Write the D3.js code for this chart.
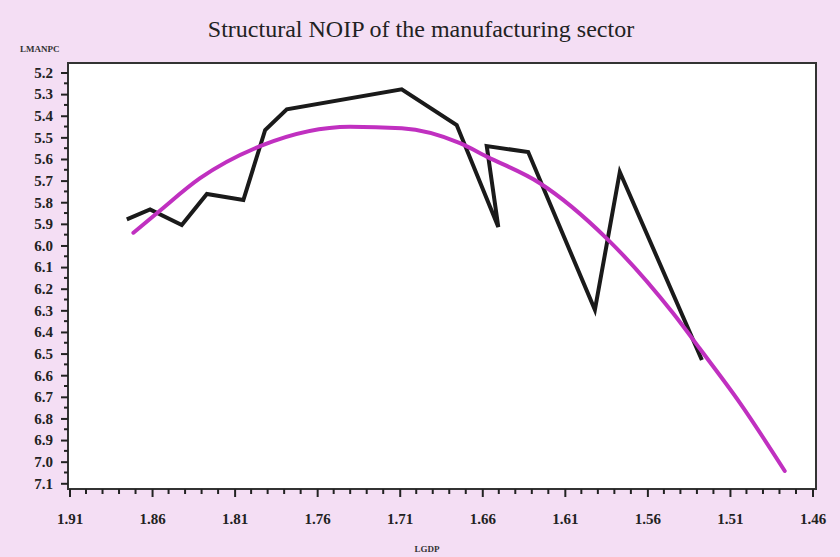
<!DOCTYPE html>
<html>
<head>
<meta charset="utf-8">
<script src="https://cdn.jsdelivr.net/npm/d3@7"></script>
<style>
  html, body { margin: 0; padding: 0; background: #f4def4; }
  svg { display: block; }
</style>
</head>
<body>
<svg id="chart" width="840" height="557"></svg>
<script>
// Observed LMANPC against LGDP (in time order, LGDP falling)
const obsLGDP = [1.8753, 1.8612, 1.842, 1.8268, 1.8047, 1.7915, 1.7784, 1.7088,
                 1.6755, 1.6503, 1.6573, 1.6322, 1.5918, 1.5767, 1.527];
const obsLMANPC = [5.879, 5.833, 5.905, 5.762, 5.790, 5.466, 5.370, 5.278,
                   5.443, 5.915, 5.540, 5.568, 6.298, 5.660, 6.530];

// Structural (fitted) curve
const fitLGDP = [1.8713, 1.8571, 1.8309, 1.7926, 1.7401, 1.7088, 1.6735, 1.6573,
                 1.6251, 1.5847, 1.5444, 1.5282, 1.5040, 1.4768];
const fitLMANPC = [5.941, 5.851, 5.689, 5.535, 5.451, 5.458, 5.527, 5.589,
                   5.712, 5.967, 6.314, 6.478, 6.728, 7.043];

// Tick values
const xTicks = [1.91, 1.86, 1.81, 1.76, 1.71, 1.66, 1.61, 1.56, 1.51, 1.46];
const yTicks = [5.2, 5.3, 5.4, 5.5, 5.6, 5.7, 5.8, 5.9, 6.0, 6.1, 6.2, 6.3,
                6.4, 6.5, 6.6, 6.7, 6.8, 6.9, 7.0, 7.1];

const svg = d3.select("#chart");
const frame = { left: 68, right: 816, top: 63, bottom: 489 };

const x = d3.scaleLinear().domain([1.91, 1.46]).range([69.5, 812.5]);
const y = d3.scaleLinear().domain([5.2, 7.1]).range([72.5, 483.3]);

const serif = "'Liberation Serif', 'DejaVu Serif', serif";

// Title
svg.append("text")
  .attr("x", 421).attr("y", 37)
  .attr("text-anchor", "middle")
  .attr("font-family", serif)
  .attr("font-size", 24)
  .attr("fill", "#222")
  .text("Structural NOIP of the manufacturing sector");

// Plot area
svg.append("rect")
  .attr("x", frame.left).attr("y", frame.top)
  .attr("width", frame.right - frame.left)
  .attr("height", frame.bottom - frame.top)
  .attr("fill", "#fff")
  .attr("stroke", "#333")
  .attr("stroke-width", 2);

// Y axis with minor ticks
const yAxis = svg.append("g")
  .attr("transform", `translate(${frame.left},0)`)
  .call(d3.axisLeft(y).tickValues(yTicks).tickFormat(d3.format(".1f"))
    .tickSize(7).tickPadding(8));
yAxis.select(".domain").remove();
yAxis.selectAll("line").attr("stroke", "#222").attr("stroke-width", 2);
yAxis.selectAll("text")
  .attr("font-family", serif).attr("font-size", 15)
  .attr("font-weight", "bold").attr("fill", "#222");

const yMinor = d3.range(5.25, 7.1, 0.1);
svg.append("g").selectAll("line").data(yMinor).join("line")
  .attr("x1", frame.left - 4).attr("x2", frame.left)
  .attr("y1", d => y(d)).attr("y2", d => y(d))
  .attr("stroke", "#222").attr("stroke-width", 2);

// X axis with minor ticks
const xAxis = svg.append("g")
  .attr("transform", `translate(0,${frame.bottom})`)
  .call(d3.axisBottom(x).tickValues(xTicks).tickFormat(d3.format(".2f"))
    .tickSize(8).tickPadding(16));
xAxis.select(".domain").remove();
xAxis.selectAll("line").attr("stroke", "#222").attr("stroke-width", 2);
xAxis.selectAll("text")
  .attr("font-family", serif).attr("font-size", 15)
  .attr("font-weight", "bold").attr("fill", "#222");

const xMinor = d3.range(0, 45).map(i => 1.91 - i * 0.01)
  .filter((d, i) => i % 5 !== 0);
svg.append("g").selectAll("line").data(xMinor).join("line")
  .attr("x1", d => x(d)).attr("x2", d => x(d))
  .attr("y1", frame.bottom).attr("y2", frame.bottom + 5)
  .attr("stroke", "#222").attr("stroke-width", 2);

// Axis names
svg.append("text")
  .attr("x", 20).attr("y", 52)
  .attr("font-family", serif).attr("font-size", 9)
  .attr("font-weight", "bold").attr("fill", "#333")
  .text("LMANPC");
svg.append("text")
  .attr("x", 427).attr("y", 552)
  .attr("text-anchor", "middle")
  .attr("font-family", serif).attr("font-size", 9)
  .attr("font-weight", "bold").attr("fill", "#333")
  .text("LGDP");

const line = d3.line().x(d => x(d[0])).y(d => y(d[1]));

// Observed series
svg.append("path")
  .datum(d3.zip(obsLGDP, obsLMANPC))
  .attr("d", line)
  .attr("fill", "none")
  .attr("stroke", "#1a1a1a")
  .attr("stroke-width", 4)
  .attr("stroke-linejoin", "miter");

// Structural curve
svg.append("path")
  .datum(d3.zip(fitLGDP, fitLMANPC))
  .attr("d", d3.line().curve(d3.curveMonotoneX).x(d => x(d[0])).y(d => y(d[1])))
  .attr("fill", "none")
  .attr("stroke", "#c030c0")
  .attr("stroke-width", 4)
  .attr("stroke-linecap", "round");
</script>
</body>
</html>
